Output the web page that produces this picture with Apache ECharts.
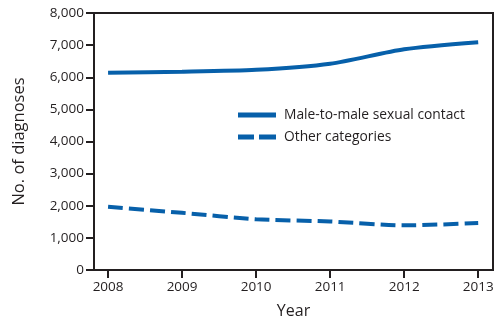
<!DOCTYPE html>
<html>
<head>
<meta charset="utf-8">
<script src="https://cdn.jsdelivr.net/npm/echarts@6/dist/echarts.min.js"></script>
<style>html,body{margin:0;padding:0;background:#fff}#c{width:500px;height:324px}</style>
</head>
<body>
<div id="c"></div>
<script>
var years = [2008, 2009, 2010, 2011, 2012, 2013];
var maleToMale = [6140, 6170, 6230, 6420, 6870, 7090];
var otherCategories = [1970, 1780, 1580, 1510, 1390, 1460];
var yTicks = [0, 1000, 2000, 3000, 4000, 5000, 6000, 7000, 8000];
var seriesNames = ['Male-to-male sexual contact', 'Other categories'];

var color = '#0760aa';
var ink = '#231f20';
var font = '"Open Sans", "Noto Sans", sans-serif';

function pairs(vals) { return years.map(function (y, i) { return [y, vals[i]]; }); }

var chart = echarts.init(document.getElementById('c'));
chart.setOption({
  animation: false,
  grid: { left: 94, right: 7, top: 13, bottom: 54, show: true, borderColor: ink, borderWidth: 2, backgroundColor: 'transparent' },
  legend: {
    left: 233, top: 103, orient: 'vertical', itemWidth: 38, itemHeight: 5, itemGap: 8,
    data: [
      { name: seriesNames[0], icon: 'rect' },
      { name: seriesNames[1], icon: 'path://M0,0H16V5H0Z M21,0H38V5H21Z' }
    ],
    textStyle: { fontFamily: font, fontSize: 13.8, color: ink, padding: [0, 0, 0, 3] }
  },
  xAxis: {
    type: 'value', min: 2007.81, max: 2013.2,
    name: 'Year', nameLocation: 'middle', nameGap: 33,
    nameTextStyle: { fontFamily: font, fontSize: 16, color: ink },
    splitLine: { show: false },
    axisLine: { show: true, onZero: false, lineStyle: { color: ink, width: 2 } },
    axisTick: { show: true, length: 8, customValues: years, lineStyle: { color: ink, width: 2 } },
    axisLabel: { customValues: years, margin: 10, fontFamily: font, fontSize: 13.5, color: ink, formatter: function (v) { return String(v); } }
  },
  yAxis: {
    type: 'value', min: yTicks[0], max: yTicks[yTicks.length - 1], interval: 1000,
    name: 'No. of diagnoses', nameLocation: 'middle', nameGap: 66, nameRotate: 90,
    nameTextStyle: { fontFamily: font, fontSize: 16.5, color: ink },
    splitLine: { show: false },
    axisLine: { show: true, lineStyle: { color: ink, width: 2 } },
    axisTick: { show: true, length: 8, lineStyle: { color: ink, width: 2 } },
    axisLabel: { margin: 10, fontFamily: font, fontSize: 13.5, color: ink, formatter: function (v) { return v.toLocaleString('en-US'); } }
  },
  series: [
    { name: seriesNames[0], type: 'line', data: pairs(maleToMale), smooth: 0.25, showSymbol: false, symbol: 'none',
      lineStyle: { color: color, width: 4 }, itemStyle: { color: color } },
    { name: seriesNames[1], type: 'line', data: pairs(otherCategories), smooth: 0.25, showSymbol: false, symbol: 'none',
      lineStyle: { color: color, width: 4, type: [15, 6] }, itemStyle: { color: color } }
  ]
});
</script>
</body>
</html>
